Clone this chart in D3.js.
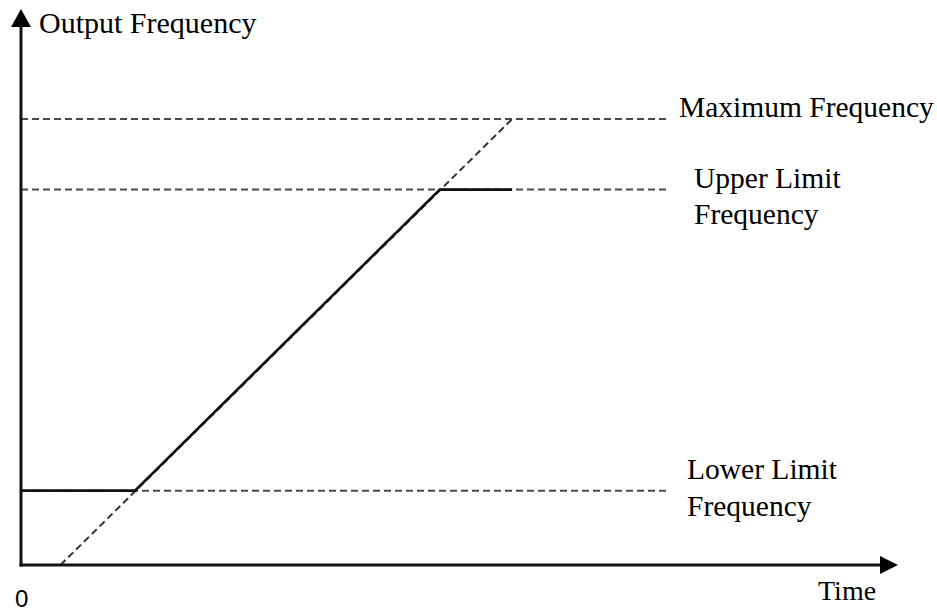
<!DOCTYPE html>
<html>
<head>
<meta charset="utf-8">
<script src="https://cdn.jsdelivr.net/npm/d3@7"></script>
<style>
  html, body { margin: 0; padding: 0; background: #fff; }
  svg text { font-family: "Liberation Serif", "Times New Roman", serif; fill: #000; }
</style>
</head>
<body>
<svg id="chart" width="937" height="613"></svg>
<script>
// levels (frequency units) of the three reference lines
var levelNames = ["Maximum Frequency", "Upper Limit Frequency", "Lower Limit Frequency"];
var levelValues = [60, 50.5, 10];
var levelEnd = 14.8;

// accel ramp (dashed) and actual output (solid), [time, frequency]
var rampPoints = [[0.9, 0], [11.2, 60]];
var outputPoints = [[0, 10], [2.6, 10], [9.55, 50.5], [11.2, 50.5]];

var axisMax = {time: 20, freq: 74.8};
var axisLabels = {y: "Output Frequency", x: "Time", origin: "0"};

(function diagram() {
    var svg = d3.select("#chart");

    var x = d3.scaleLinear().domain([0, 20]).range([21, 898]);
    var y = d3.scaleLinear().domain([0, 60]).range([565, 119]);

    var line = d3.line()
        .x(function(d) { return x(d[0]); })
        .y(function(d) { return y(d[1]); });

    // dashed levels
    svg.selectAll(".level")
        .data(levelValues)
        .enter().append("line")
        .attr("class", "level")
        .attr("x1", x(0))
        .attr("x2", x(levelEnd))
        .attr("y1", function(d) { return y(d); })
        .attr("y2", function(d) { return y(d); })
        .attr("stroke", "#4a4a4a")
        .attr("stroke-width", 2)
        .attr("stroke-dasharray", "7,4");

    svg.append("path")
        .datum(rampPoints)
        .attr("d", line)
        .attr("fill", "none")
        .attr("stroke", "#333")
        .attr("stroke-width", 2)
        .attr("stroke-dasharray", "7,4");

    svg.append("path")
        .datum(outputPoints)
        .attr("d", line)
        .attr("fill", "none")
        .attr("stroke", "#111")
        .attr("stroke-width", 2.6);

    // axes with arrow heads
    var x0 = x(0), y0 = y(0), xt = x(axisMax.time), yt = y(axisMax.freq);
    svg.append("line")
        .attr("x1", x0).attr("y1", y0 + 1.5)
        .attr("x2", x0).attr("y2", yt + 12)
        .attr("stroke", "#111").attr("stroke-width", 3);
    svg.append("line")
        .attr("x1", x0 - 1.5).attr("y1", y0)
        .attr("x2", xt - 12).attr("y2", y0)
        .attr("stroke", "#111").attr("stroke-width", 3);
    svg.append("path")
        .attr("d", "M" + x0 + "," + yt + "L" + (x0 - 10) + "," + (yt + 18) + "L" + (x0 + 10) + "," + (yt + 18) + "Z")
        .attr("fill", "#000");
    svg.append("path")
        .attr("d", "M" + xt + "," + y0 + "L" + (xt - 18) + "," + (y0 - 9) + "L" + (xt - 18) + "," + (y0 + 9) + "Z")
        .attr("fill", "#000");

    // labels
    svg.append("text").attr("x", 39).attr("y", 33)
        .style("font-size", "30px").text(axisLabels.y);
    svg.append("text").attr("x", 818).attr("y", 600)
        .style("font-size", "28px").text(axisLabels.x);
    svg.append("text").attr("x", 15).attr("y", 607)
        .style("font-family", "'Liberation Sans', Arial, sans-serif")
        .style("font-size", "24px").text(axisLabels.origin);

    svg.append("text").attr("x", 679).attr("y", y(levelValues[0]) - 2)
        .style("font-size", "29.5px").text(levelNames[0]);

    var upper = svg.append("text").attr("x", 694).attr("y", y(levelValues[1]) - 2)
        .style("font-size", "29.5px");
    upper.append("tspan").attr("x", 694).text("Upper Limit");
    upper.append("tspan").attr("x", 694).attr("dy", 36).text("Frequency");

    var lower = svg.append("text").attr("x", 687).attr("y", y(levelValues[2]) - 12)
        .style("font-size", "29.5px");
    lower.append("tspan").attr("x", 687).text("Lower Limit");
    lower.append("tspan").attr("x", 687).attr("dy", 37).text("Frequency");
})();
</script>
</body>
</html>
